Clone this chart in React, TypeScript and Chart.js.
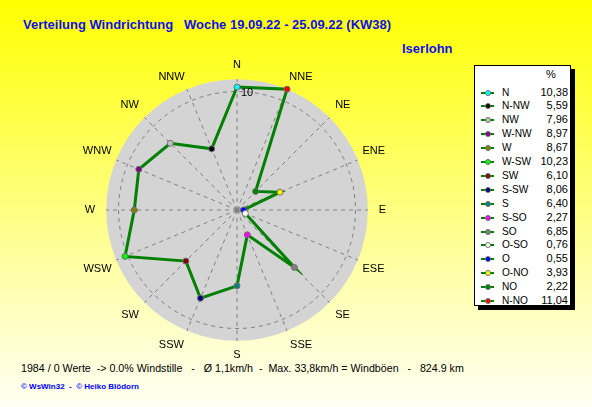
import React, { useEffect, useRef } from 'react';
import { Chart, registerables } from 'chart.js';

Chart.register(...registerables);

const directions = ['N', 'NNE', 'NE', 'ENE', 'E', 'ESE', 'SE', 'SSE', 'S', 'SSW', 'SW', 'WSW', 'W', 'WNW', 'NW', 'NNW'];
const percentages = [10.38, 11.04, 2.22, 3.93, 0.55, 0.76, 6.85, 2.27, 6.40, 8.06, 6.10, 10.23, 8.67, 8.97, 7.96, 5.59];
const pointColors = ['#00ffff', '#ff0000', '#008000', '#ffff00', '#0000ff', '#ffffff', '#808080', '#ff00ff', '#008080', '#000080', '#800000', '#00ff00', '#808000', '#800080', '#c0c0c0', '#000000'];
const germanNames = ['N', 'N-NO', 'NO', 'O-NO', 'O', 'O-SO', 'SO', 'S-SO', 'S', 'S-SW', 'SW', 'W-SW', 'W', 'W-NW', 'NW', 'N-NW'];
const legendOrder = [0, 15, 14, 13, 12, 11, 10, 9, 8, 7, 6, 5, 4, 3, 2, 1];
const tickLabelValue = 10;
const scaleMax = 11.04;

const titleText = 'Verteilung Windrichtung   Woche 19.09.22 - 25.09.22 (KW38)';
const stationText = 'Iserlohn';
const footerText = '1984 / 0 Werte  -> 0.0% Windstille   -   Ø 1,1km/h  -  Max. 33,8km/h = Windböen   -   824.9 km';
const creditText = '© WsWin32  -  © Heiko Blödorn';

const FONT = '"Liberation Sans", Arial, sans-serif';

export default function App() {
  const canvasRef = useRef<HTMLCanvasElement | null>(null);

  useEffect(() => {
    if (!canvasRef.current) return;
    const discPlugin = {
      id: 'disc',
      beforeDraw(chart: any) {
        const scale = chart.scales.r;
        const ctx = chart.ctx;
        const rMax = scale.getDistanceFromCenterForValue(scaleMax);
        const rTick = scale.getDistanceFromCenterForValue(tickLabelValue);
        ctx.save();
        ctx.beginPath();
        ctx.arc(scale.xCenter, scale.yCenter, rMax, 0, Math.PI * 2);
        ctx.fillStyle = '#d4d4d4';
        ctx.fill();
        ctx.beginPath();
        ctx.setLineDash([4, 4]);
        ctx.arc(scale.xCenter, scale.yCenter, rTick, 0, Math.PI * 2);
        ctx.strokeStyle = '#808080';
        ctx.lineWidth = 1;
        ctx.stroke();
        ctx.restore();
      },
      afterDraw(chart: any) {
        const scale = chart.scales.r;
        const ctx = chart.ctx;
        const d = scale.getDistanceFromCenterForValue(tickLabelValue);
        ctx.save();
        ctx.font = `11px ${FONT}`;
        ctx.fillStyle = '#000000';
        ctx.textAlign = 'left';
        ctx.textBaseline = 'middle';
        ctx.fillText(String(tickLabelValue), scale.xCenter + 4, scale.yCenter - d + 1);
        ctx.restore();
      },
    };
    const chart = new Chart(canvasRef.current, {
      type: 'radar',
      data: {
        labels: directions,
        datasets: [
          {
            data: percentages,
            borderColor: '#008000',
            borderWidth: 3,
            fill: false,
            tension: 0,
            pointBackgroundColor: pointColors,
            pointBorderColor: '#707070',
            pointBorderWidth: 1,
            pointRadius: 3,
          },
        ],
      },
      options: {
        animation: false,
        responsive: false,
        layout: { padding: 0 },
        plugins: { legend: { display: false }, tooltip: { enabled: false } },
        scales: {
          r: {
            min: 0,
            max: scaleMax,
            ticks: { display: false, stepSize: 10 },
            grid: { display: false },
            angleLines: { color: '#808080', lineWidth: 1, borderDash: [4, 4] },
            pointLabels: {
              color: '#000000',
              font: { family: FONT, size: 11 },
              padding: (ctx: any) => {
                const i = ctx.index;
                if (i === 4 || i === 12) return 11;
                if (i === 1 || i === 15) return 6;
                if (i === 3 || i === 5 || i === 11 || i === 13) return 5;
                return 8;
              },
            },
          },
        },
      },
      plugins: [discPlugin],
    } as any);
    return () => chart.destroy();
  }, []);

  const fmt = (v: number) => v.toFixed(2).replace('.', ',');

  return (
    <div
      style={{
        position: 'absolute',
        left: 0,
        top: 0,
        width: 592,
        height: 407,
        overflow: 'hidden',
        background: 'linear-gradient(to bottom, #ffff00 0%, #ffffb0 70%, #fffff4 100%)',
        fontFamily: FONT,
      }}
    >
      <div style={{ position: 'absolute', left: 23, top: 17, fontSize: 13, fontWeight: 'bold', color: '#1010e8', whiteSpace: 'pre' }}>
        {titleText}
      </div>
      <div style={{ position: 'absolute', left: 402, top: 41, fontSize: 13, fontWeight: 'bold', color: '#1010e8', whiteSpace: 'pre' }}>
        {stationText}
      </div>
      <canvas
        ref={canvasRef}
        width={314}
        height={304}
        style={{ position: 'absolute', left: 78, top: 58, width: 314, height: 304 }}
      />
      <div
        style={{
          position: 'absolute',
          left: 474,
          top: 65,
          width: 95,
          height: 239,
          background: '#ffffff',
          border: '1px solid #000000',
          boxShadow: '4px 4px 0 #000000',
          fontSize: 11,
          color: '#000000',
        }}
      >
        <div style={{ position: 'absolute', left: 71, top: 2 }}>%</div>
        {legendOrder.map((idx, row) => (
          <div key={idx} style={{ position: 'absolute', left: 0, top: 19.5 + row * 13.9, width: 95, height: 13, lineHeight: '13px' }}>
            <div style={{ position: 'absolute', left: 6, top: 6, width: 13, height: 2, background: '#008000' }} />
            <div
              style={{
                position: 'absolute',
                left: 10,
                top: 4,
                width: 4,
                height: 4,
                borderRadius: 3,
                background: pointColors[idx],
                border: '1px solid #707070',
              }}
            />
            <div style={{ position: 'absolute', left: 27, top: 0, whiteSpace: 'pre', transform: 'scaleX(0.92)', transformOrigin: 'left top' }}>
              {germanNames[idx]}
            </div>
            <div style={{ position: 'absolute', right: 2, top: 0, whiteSpace: 'pre' }}>{fmt(percentages[idx])}</div>
          </div>
        ))}
      </div>
      <div
        style={{
          position: 'absolute',
          left: 21,
          top: 362,
          fontSize: 11,
          color: '#000000',
          whiteSpace: 'pre',
          transform: 'scaleX(0.97)',
          transformOrigin: 'left top',
        }}
      >
        {footerText}
      </div>
      <div style={{ position: 'absolute', left: 21, top: 382, fontSize: 8, fontWeight: 'bold', color: '#0000ff', whiteSpace: 'pre' }}>
        {creditText}
      </div>
    </div>
  );
}
